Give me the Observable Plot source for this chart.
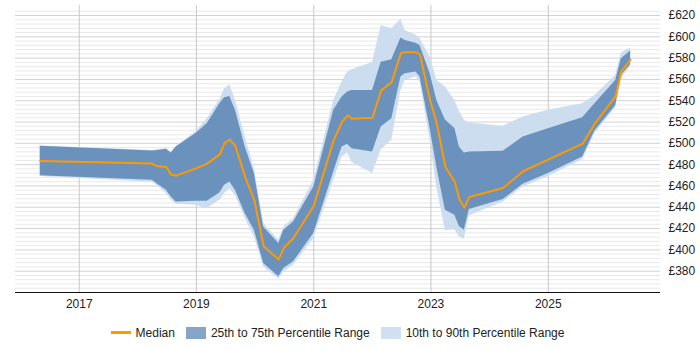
<!DOCTYPE html>
<html>
<head>
<meta charset="utf-8">
<script src="https://cdn.jsdelivr.net/npm/d3@7"></script>
<script src="https://cdn.jsdelivr.net/npm/@observablehq/plot@0.6"></script>
<style>
  html, body { margin: 0; padding: 0; background: #fff; }
  body { width: 700px; height: 350px; overflow: hidden; font-family: "Liberation Sans", Arial, sans-serif; }
  #legend {
    width: 700px; height: 35px; box-sizing: border-box;
    padding-left: 15px; padding-right: 40px;
    display: flex; justify-content: center; align-items: center;
    font-size: 12px; color: #222;
  }
  .item { display: flex; align-items: center; margin: 0 5.5px; }
  .sw { width: 20px; height: 12px; margin-right: 5px; }
  .sw.line { height: 3px; background: #ff9900; }
  .sw.iqr { background: #87a5c6; }
  .sw.dec { background: #d0e0f0; }
</style>
</head>
<body>
<div id="chart"></div>
<div id="legend">
  <div class="item"><div class="sw line"></div><span>Median</span></div>
  <div class="item"><div class="sw iqr"></div><span>25th to 75th Percentile Range</span></div>
  <div class="item"><div class="sw dec"></div><span>10th to 90th Percentile Range</span></div>
</div>
<script>
// Sample dates (monthly snapshots)
const dates = ["2016-05-03","2018-04-01","2018-04-28","2018-06-28","2018-07-28","2018-08-28",
  "2018-12-27","2019-03-09","2019-05-27","2019-06-25","2019-07-28","2019-09-01","2019-11-01",
  "2019-12-28","2020-02-24","2020-05-28","2020-06-28","2020-08-28","2021-01-01","2021-05-05",
  "2021-06-26","2021-07-31","2021-08-27","2022-01-02","2022-02-25","2022-05-02","2022-06-28",
  "2022-07-24","2022-09-30","2022-10-25","2022-12-27","2023-02-07","2023-04-01","2023-05-30",
  "2023-06-27","2023-07-28","2023-08-28","2024-03-26","2024-07-28","2025-01-01","2025-08-03",
  "2025-10-18","2026-02-25","2026-04-01","2026-05-29"];

// Daily rate percentiles (£)
const p10 = [469,463.5,460.6,453,446.6,442.8,441.9,438.8,446.6,452.8,457.5,451,429.4,412.2,384,
  372.5,379.4,385.6,410.6,465.3,487.2,491,482,471.6,494,503,549.7,559,562.5,557.5,503,458,418,
  419,412,410,432,445,459,469,484.7,509,533.5,560.6,572.2];
const p25 = [469.7,465.3,462.2,456,449.7,445,445.6,445.6,453.4,460.6,463.7,456,434,418.4,387.2,
  374.7,382.5,388.8,415.3,473.1,496.6,499.1,495,491.9,515.3,523.1,562.2,565.3,566.9,562.2,514,
  477,437.2,432.5,422,418.4,438,447.2,461.6,471.6,487.2,511.5,535.6,563.8,574];
const median = [483.4,481,478.7,477.8,470.6,469.7,476.3,481,489.7,500.3,503.5,497.5,468.4,446.6,
  403.4,391,401.8,411.2,441.2,502.8,520,526.3,523.1,524,549.7,557.5,584.7,585.6,585.6,583.4,
  540.3,518.5,477.8,463.7,447.5,439.7,449.7,458.1,473.8,484.7,499.7,518.5,544.4,567.5,578.5];
const p75 = [497.2,492.8,493,494.4,491,496.6,509,518.5,537.2,542.8,544,531,496.6,471.6,421.5,
  406,418.4,426.2,459,531,543.4,548.1,549.7,549.7,576.2,578.5,598.8,596.6,594,591.9,565.3,540.3,
  522,514,496.6,491,491.9,492.5,505.9,513.8,524,537.2,559,579.4,586.6];
const p90 = [497.5,493.4,494,495,492,497,510.6,523.1,541,551.3,555,540.3,506,476.3,424.7,409,
  421.5,429.4,465.3,540.3,557.5,566.9,569,576,610.6,607.5,616.5,606,601.5,598.5,581,559,552.8,
  540,530,521.6,519,516,524.7,531,537.2,545,563.8,584.7,589.7];

// Axis ticks
const yearTicks = ["2017","2019","2021","2023","2025"];
const yMajor = [380,400,420,440,460,480,500,520,540,560,580,600,620];

const parse = d3.utcParse("%Y-%m-%d");
const rows = dates.map((d, i) => ({
  date: parse(d), p10: p10[i], p25: p25[i], median: median[i], p75: p75[i], p90: p90[i]
}));
const xTicks = yearTicks.map(y => d3.utcParse("%Y")(y));
const yMinor = d3.range(364, 625, 4).filter(v => v % 20 !== 0);

const chart = Plot.plot({
  width: 700,
  height: 315,
  marginLeft: 15,
  marginRight: 40,
  marginTop: 5,
  marginBottom: 23,
  style: { fontFamily: '"Liberation Sans", Arial, sans-serif', fontSize: "12px", color: "#222", background: "#fff" },
  x: { type: "utc", domain: [parse("2015-12-01"), parse("2026-12-01")] },
  y: { domain: [360, 629.4] },
  marks: [
    Plot.ruleY(yMinor, { stroke: "#e9e9e9", strokeWidth: 1 }),
    Plot.ruleY(yMajor, { stroke: "#d2d2d2", strokeWidth: 1 }),
    Plot.ruleX(xTicks, { stroke: "#c8c8c8", strokeWidth: 1 }),
    Plot.areaY(rows, { x: "date", y1: "p10", y2: "p90", fill: "#ccddef" }),
    Plot.areaY(rows, { x: "date", y1: "p25", y2: "p75", fill: "#6a92bc" }),
    Plot.line(rows, { x: "date", y: "median", stroke: "#ff9900", strokeWidth: 2 }),
    Plot.ruleY([360], { stroke: "#111", strokeWidth: 1.2 }),
    Plot.axisX(xTicks, { tickFormat: d3.utcFormat("%Y"), tickSize: 0, tickPadding: 7, label: null }),
    Plot.axisY(yMajor, { anchor: "right", tickFormat: d => "£" + d, tickSize: 0, tickPadding: 8, label: null })
  ]
});
document.getElementById("chart").appendChild(chart);
</script>
</body>
</html>
